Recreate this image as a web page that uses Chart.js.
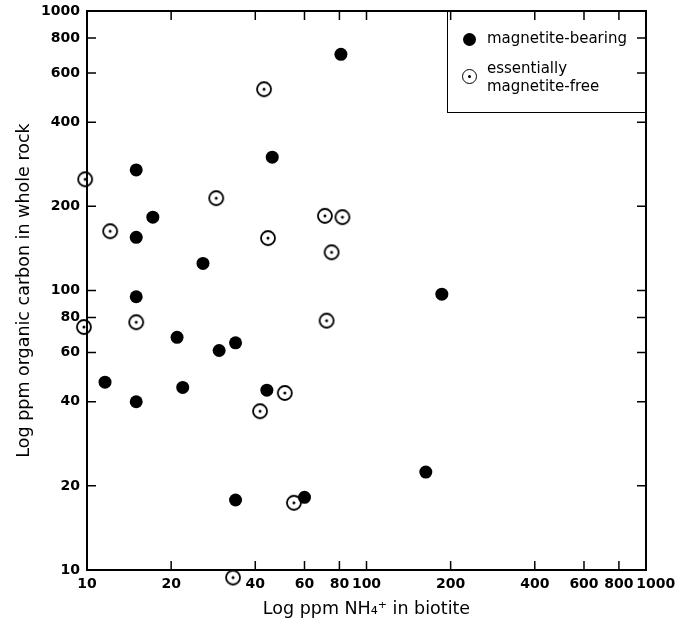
<!DOCTYPE html>
<html><head><meta charset="utf-8">
<script src="https://cdn.jsdelivr.net/npm/chart.js@4.4.1/dist/chart.umd.min.js"></script>
<style>
html,body{margin:0;padding:0;background:#fff;}
#wrap{position:relative;width:688px;height:623px;}
#legend{position:absolute;left:447px;top:11px;width:200px;height:102px;border:1.5px solid #000;box-sizing:border-box;font-family:'DejaVu Sans',sans-serif;font-size:15px;color:#000;}
.sym{position:absolute;box-sizing:border-box;border-radius:50%;}
.fill{left:15px;top:21px;width:13px;height:13px;background:#000;}
.open{left:14px;top:57px;width:15px;height:15px;border:1.8px solid #000;}
.open:after{content:'';position:absolute;left:50%;top:50%;width:3px;height:3px;margin:-1.5px 0 0 -1.5px;background:#000;border-radius:50%;}
.lt{position:absolute;left:39px;line-height:18px;white-space:nowrap;}
</style>
</head><body>
<div id="wrap">
<canvas id="c"></canvas>
<div id="legend">
  <div class="sym fill"></div><div class="lt" style="top:17px">magnetite-bearing</div>
  <div class="sym open"></div><div class="lt" style="top:47px">essentially<br>magnetite-free</div>
</div>
</div>
<script>
const tickValues = [10, 20, 40, 60, 80, 100, 200, 400, 600, 800, 1000];
const bearingNH4 = [81, 46, 15, 17.2, 15, 26, 15, 186, 21, 29.7, 34, 11.6, 22, 15, 44, 34, 60, 163];
const bearingC   = [700, 300, 270, 183, 155, 125, 95, 97, 68, 61, 65, 47, 45, 40, 44, 17.8, 18.2, 22.4];
const freeNH4 = [43, 9.85, 29, 12.1, 44.4, 71, 82, 75, 9.75, 15, 72, 51, 41.6, 55, 33.3];
const freeC   = [525, 250, 214, 163, 154, 185, 183, 137, 74, 77, 78, 43, 37, 17.4, 9.4];
const xTitle = 'Log ppm NH\u2084\u207A in biotite';
const yTitle = 'Log ppm organic carbon in whole rock';

const toPts = (xs, ys) => xs.map((x, i) => ({x: x, y: ys[i]}));

// open circle with centre dot
const openImg = document.createElement('canvas');
openImg.width = 20; openImg.height = 20;
(function(){
  const g = openImg.getContext('2d');
  g.strokeStyle = '#000'; g.lineWidth = 1.8;
  g.beginPath(); g.arc(10, 10, 7, 0, Math.PI * 2); g.stroke();
  g.fillStyle = '#000';
  g.beginPath(); g.arc(10, 10, 1.5, 0, Math.PI * 2); g.fill();
})();

const frame = {
  id: 'frame',
  afterDatasetsDraw(chart) {
    const {ctx, chartArea: a, scales: {x, y}} = chart;
    ctx.save();
    ctx.strokeStyle = '#000';
    ctx.lineWidth = 2;
    ctx.strokeRect(a.left, a.top, a.right - a.left, a.bottom - a.top);
    ctx.lineWidth = 1.5;
    const L = 9;
    tickValues.slice(1, -1).forEach(v => {
      const px = x.getPixelForValue(v);
      const py = y.getPixelForValue(v);
      ctx.beginPath();
      ctx.moveTo(px, a.bottom); ctx.lineTo(px, a.bottom - L);
      ctx.moveTo(px, a.top); ctx.lineTo(px, a.top + L);
      ctx.moveTo(a.left, py); ctx.lineTo(a.left + L, py);
      ctx.moveTo(a.right, py); ctx.lineTo(a.right - L, py);
      ctx.stroke();
    });
    ctx.restore();
  }
};

const tickFont = {family: 'DejaVu Sans', size: 14, weight: 'bold', lineHeight: 1};
const titleFont = {family: 'DejaVu Sans', size: 17.5};

new Chart(document.getElementById('c'), {
  type: 'scatter',
  data: {
    datasets: [
      {label: 'magnetite-bearing', data: toPts(bearingNH4, bearingC),
       pointStyle: 'circle', pointRadius: 6.5, pointHoverRadius: 6.5,
       backgroundColor: '#000', borderWidth: 0, clip: false},
      {label: 'essentially magnetite-free', data: toPts(freeNH4, freeC),
       pointStyle: openImg, pointRadius: 8, clip: false}
    ]
  },
  options: {
    responsive: true,
    maintainAspectRatio: false,
    animation: false,
    events: [],
    layout: {padding: {top: 11, right: 42, left: 0, bottom: 0}},
    plugins: {legend: {display: false}, tooltip: {enabled: false}},
    scales: {
      x: {
        type: 'logarithmic', min: 10, max: 1000,
        afterBuildTicks: s => { s.ticks = tickValues.map(v => ({value: v})); },
        afterFit: s => { s.height = 53; s.paddingLeft = 0; s.paddingRight = 0; },
        ticks: {autoSkip: false, maxRotation: 0, padding: 7, color: '#000', font: tickFont,
                callback: v => (v === 1000 ? '\u2007\u2007' : '') + String(v)},
        grid: {display: false, drawTicks: false},
        border: {display: false},
        title: {display: true, text: xTitle, color: '#000', font: titleFont, padding: {top: 0, bottom: 3}}
      },
      y: {
        type: 'logarithmic', min: 10, max: 1000,
        afterBuildTicks: s => { s.ticks = tickValues.map(v => ({value: v})); },
        afterFit: s => { s.width = 87; s.paddingTop = 0; s.paddingBottom = 0; },
        ticks: {autoSkip: false, padding: 7, color: '#000', font: tickFont,
                callback: v => String(v)},
        grid: {display: false, drawTicks: false},
        border: {display: false},
        title: {display: true, text: yTitle, color: '#000', font: titleFont, padding: {top: 14, bottom: 0}}
      }
    }
  },
  plugins: [frame]
});
</script>
</body></html>
